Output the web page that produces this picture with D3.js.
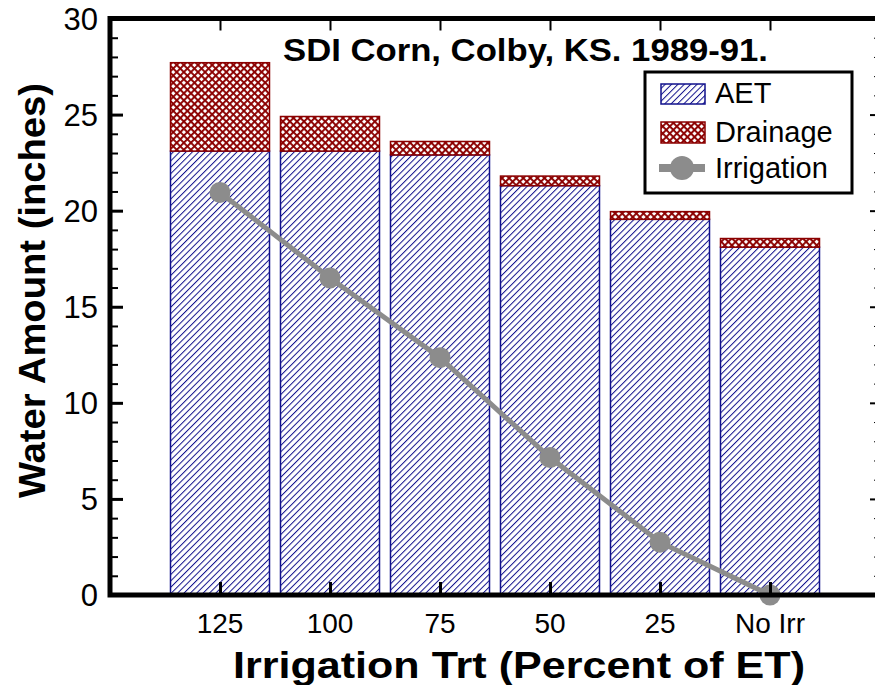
<!DOCTYPE html>
<html>
<head>
<meta charset="utf-8">
<script src="https://cdn.jsdelivr.net/npm/d3@7"></script>
<style>
  body { margin: 0; background: #fff; }
  text { font-family: "Liberation Sans", Arial, sans-serif; }
</style>
</head>
<body>
<div id="chart"></div>
<script>
const width = 875;
const height = 685;

// data
const categories = ["125", "100", "75", "50", "25", "No Irr"];
const aet = [23.1, 23.1, 22.9, 21.3, 19.55, 18.1];
const drainage = [4.6, 1.8, 0.7, 0.5, 0.4, 0.45];
const irrigation = [20.95, 16.5, 12.35, 7.15, 2.75, 0];
const yTicks = [0, 5, 10, 15, 20, 25, 30];
const legendLabels = ["AET", "Drainage", "Irrigation"];

const svg = d3.select("#chart")
    .append("svg")
    .attr("width", width)
    .attr("height", height);

const defs = svg.append("defs");

// blue diagonal hatch for AET
const aetPat = defs.append("pattern")
    .attr("id", "aet")
    .attr("patternUnits", "userSpaceOnUse")
    .attr("width", 4.5)
    .attr("height", 4.5)
    .attr("patternTransform", "rotate(45)");
aetPat.append("rect").attr("width", 4.5).attr("height", 4.5).attr("fill", "#fff");
aetPat.append("line")
    .attr("x1", 0).attr("y1", 0).attr("x2", 0).attr("y2", 4.5)
    .attr("stroke", "#10108c").attr("stroke-width", 2);

// red crosshatch for drainage
const drPat = defs.append("pattern")
    .attr("id", "drain")
    .attr("patternUnits", "userSpaceOnUse")
    .attr("width", 5)
    .attr("height", 5)
    .attr("patternTransform", "rotate(45)");
drPat.append("rect").attr("width", 5).attr("height", 5).attr("fill", "#fff");
drPat.append("line")
    .attr("x1", 0).attr("y1", 0).attr("x2", 0).attr("y2", 5)
    .attr("stroke", "#8b0000").attr("stroke-width", 3.8);
drPat.append("line")
    .attr("x1", 0).attr("y1", 0).attr("x2", 5).attr("y2", 0)
    .attr("stroke", "#8b0000").attr("stroke-width", 3.8);

const x0 = 110, x1 = 877, yTop = 18.5, yBot = 595;

const x = d3.scaleBand()
    .domain(categories)
    .range([165, 825])
    .paddingInner(0.1)
    .paddingOuter(0.05);

const y = d3.scaleLinear()
    .domain([0, 30])
    .range([yBot, yTop]);

// bars
const bars = svg.append("g");
categories.forEach((c, i) => {
    bars.append("rect")
        .attr("x", x(c))
        .attr("y", y(aet[i]))
        .attr("width", x.bandwidth())
        .attr("height", y(0) - y(aet[i]))
        .attr("fill", "url(#aet)")
        .attr("stroke", "#10108c")
        .attr("stroke-width", 1.5);
    bars.append("rect")
        .attr("x", x(c))
        .attr("y", y(aet[i] + drainage[i]))
        .attr("width", x.bandwidth())
        .attr("height", y(aet[i]) - y(aet[i] + drainage[i]))
        .attr("fill", "url(#drain)")
        .attr("stroke", "#8b0000")
        .attr("stroke-width", 1.5);
});

// irrigation line
const cx = (d, i) => x(categories[i]) + x.bandwidth() / 2;
const line = d3.line()
    .x(cx)
    .y(d => y(d));

svg.append("path")
    .datum(irrigation)
    .attr("d", line)
    .attr("fill", "none")
    .attr("stroke", "#8c8c8c")
    .attr("stroke-width", 5);

svg.selectAll(".pt")
    .data(irrigation)
    .enter().append("circle")
    .attr("cx", cx)
    .attr("cy", d => y(d))
    .attr("r", 10.5)
    .attr("fill", "#8c8c8c");

// axes
const minor = d3.range(0, 31, 1).filter(v => v % 5 !== 0);

const left = svg.append("g").attr("transform", `translate(${x0},0)`);
left.call(d3.axisRight(y).tickValues(yTicks).tickSize(13).tickFormat(""))
    .call(g => g.select(".domain").remove())
    .call(g => g.selectAll("line").attr("stroke", "#000").attr("stroke-width", 3));
left.append("g")
    .call(d3.axisRight(y).tickValues(minor).tickSize(8).tickFormat(""))
    .call(g => g.select(".domain").remove())
    .call(g => g.selectAll("line").attr("stroke", "#000").attr("stroke-width", 2));

svg.selectAll(".ylab")
    .data(yTicks)
    .enter().append("text")
    .attr("x", 98)
    .attr("y", d => y(d) + 11)
    .attr("text-anchor", "end")
    .attr("font-size", 31)
    .text(d => d);

const right = svg.append("g").attr("transform", `translate(${x1},0)`);
right.call(d3.axisLeft(y).tickValues(yTicks).tickSize(7).tickFormat(""))
    .call(g => g.select(".domain").remove())
    .call(g => g.selectAll("line").attr("stroke", "#000").attr("stroke-width", 2));
right.append("g")
    .call(d3.axisLeft(y).tickValues(minor).tickSize(3).tickFormat(""))
    .call(g => g.select(".domain").remove())
    .call(g => g.selectAll("line").attr("stroke", "#000").attr("stroke-width", 1));

const xc = d3.scalePoint().domain(categories)
    .range([cx(0, 0), cx(0, categories.length - 1)]);

svg.append("g").attr("transform", `translate(0,${yBot})`)
    .call(d3.axisTop(xc).tickSize(13).tickFormat(""))
    .call(g => g.select(".domain").remove())
    .call(g => g.selectAll("line").attr("stroke", "#000").attr("stroke-width", 3));

svg.append("g").attr("transform", `translate(0,${yTop})`)
    .call(d3.axisBottom(xc).tickSize(12).tickFormat(""))
    .call(g => g.select(".domain").remove())
    .call(g => g.selectAll("line").attr("stroke", "#000").attr("stroke-width", 2));

svg.selectAll(".xlab")
    .data(categories)
    .enter().append("text")
    .attr("x", d => xc(d))
    .attr("y", 633)
    .attr("text-anchor", "middle")
    .attr("font-size", 28)
    .text(d => d);

// frame
svg.append("path")
    .attr("d", `M${x0},${yTop}H${x1}M${x0},${yBot}H${x1}M${x0},${yTop - 2.5}V${yBot + 2.5}`)
    .attr("stroke", "#000")
    .attr("stroke-width", 5)
    .attr("fill", "none");

// titles
svg.append("text")
    .attr("x", 283)
    .attr("y", 61)
    .attr("font-size", 32)
    .attr("font-weight", "bold")
    .attr("textLength", 485)
    .attr("lengthAdjust", "spacingAndGlyphs")
    .text("SDI Corn, Colby, KS. 1989-91.");

svg.append("text")
    .attr("x", 233)
    .attr("y", 678)
    .attr("font-size", 36)
    .attr("font-weight", "bold")
    .attr("textLength", 572)
    .attr("lengthAdjust", "spacingAndGlyphs")
    .text("Irrigation Trt (Percent of ET)");

svg.append("text")
    .attr("transform", "translate(45,498) rotate(-90)")
    .attr("font-size", 36)
    .attr("font-weight", "bold")
    .attr("textLength", 415)
    .attr("lengthAdjust", "spacingAndGlyphs")
    .text("Water Amount (inches)");

// legend
const lg = svg.append("g").attr("transform", "translate(645,72)");
lg.append("rect")
    .attr("width", 207).attr("height", 121)
    .attr("fill", "#fff").attr("stroke", "#000").attr("stroke-width", 3);
lg.append("rect").attr("x", 16).attr("y", 12).attr("width", 44).attr("height", 20)
    .attr("fill", "url(#aet)").attr("stroke", "#10108c").attr("stroke-width", 1.5);
lg.append("rect").attr("x", 16).attr("y", 50).attr("width", 44).attr("height", 21)
    .attr("fill", "url(#drain)").attr("stroke", "#8b0000").attr("stroke-width", 1.5);
lg.append("line").attr("x1", 14).attr("x2", 60).attr("y1", 96).attr("y2", 96)
    .attr("stroke", "#8c8c8c").attr("stroke-width", 8);
lg.append("circle").attr("cx", 37).attr("cy", 96).attr("r", 12).attr("fill", "#8c8c8c");
lg.selectAll(".lt")
    .data(legendLabels)
    .enter().append("text")
    .attr("x", 70)
    .attr("y", (d, i) => [31, 70, 106][i])
    .attr("font-size", 29)
    .text(d => d);
</script>
</body>
</html>
